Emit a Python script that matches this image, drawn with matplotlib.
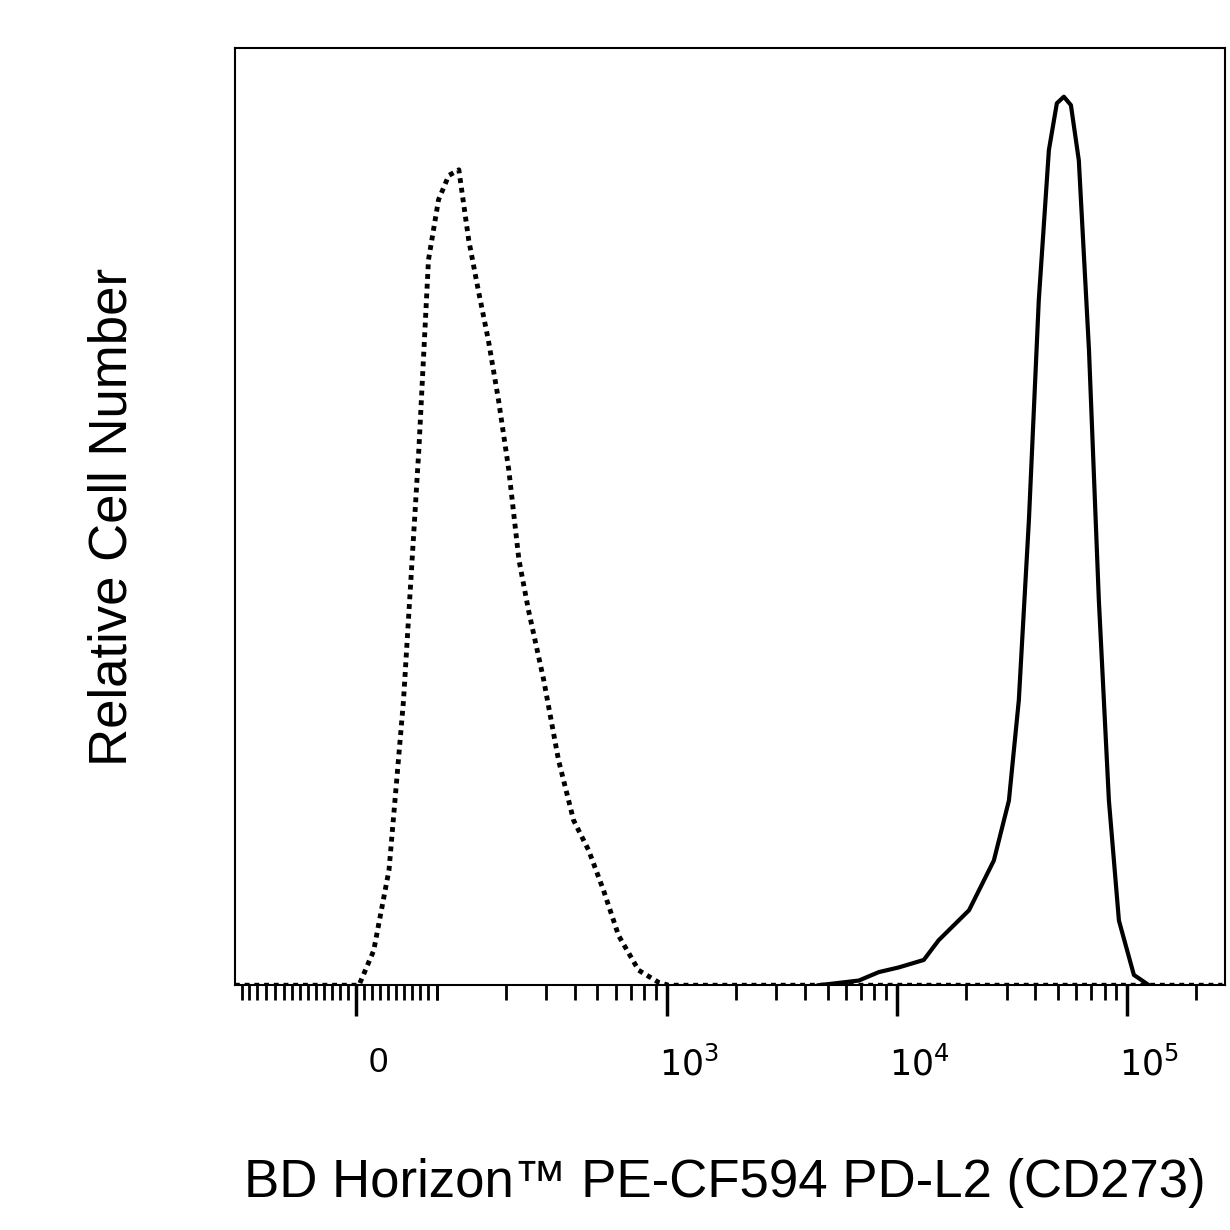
import numpy as np
import matplotlib.pyplot as plt
import matplotlib.transforms as mtransforms

plt.rcParams['font.family'] = ['Liberation Sans', 'DejaVu Sans']

# isotype control (dotted)
ctrl_x = [-150, 0, 3.7, 22, 41, 59, 78, 90, 102, 113, 125, 138, 152, 168, 186, 206, 228,
          251, 292, 339, 394, 458, 532, 618, 755, 923, 1020, 260000]
ctrl_y = [0, 0, 0, 3.7, 12.3, 30.4, 57.1, 77.4, 83.8, 86.4, 87.0, 79.5, 74.1, 68.8, 62.4,
          55.0, 45.4, 40.0, 32.6, 24.0, 17.6, 14.4, 10.1, 5.3, 1.6, 0.3, 0, 0]
# PD-L2 stained (solid)
stain_x = [4581, 6840, 8350, 10200, 13100, 15200, 20600, 26400, 30700, 33900, 37500,
           41400, 45800, 49600, 53200, 57100, 61800, 68400, 75500, 83500, 92300, 107200,
           124700]
stain_y = [0, 0.5, 1.4, 1.9, 2.7, 4.8, 8.0, 13.3, 19.7, 30.4, 49.6, 73.1, 89.1, 94.1,
           94.8, 93.9, 88.0, 67.8, 41.1, 19.7, 6.9, 1.1, 0]

major_ticks = [0, 1e3, 1e4, 1e5]
major_labels = ['0', r'$10^3$', r'$10^4$', r'$10^5$']

fig = plt.figure(figsize=(12.3, 12.3), dpi=100)
ax = fig.add_axes([0.191, 0.199, 0.805, 0.762])
ax.set_xscale('symlog', linthresh=100, linscale=0.315)
ax.plot(ctrl_x, ctrl_y, color='black', lw=3.5, ls=(0, (1, 1)))
ax.plot(stain_x, stain_y, color='black', lw=3)
ax.set_xlim(-150, 2.67e5)
ax.set_ylim(0, 100)
ax.set_yticks([])

minor = list(np.arange(-100, 101, 10)) + [-140, -130, -120, -110]
for d in [100, 1000, 10000, 100000]:
    minor += [d * k for k in range(1, 10) if d * k < 2.6e5]
ax.set_xticks(major_ticks)
ax.set_xticklabels(major_labels, fontsize=25)
ax.set_xticks(minor, minor=True)
ax.tick_params(axis='x', which='major', length=22, width=2.5, direction='out', pad=22)
ax.tick_params(axis='x', which='minor', length=11, width=2, direction='out')
off = mtransforms.ScaledTranslation(0.22, 0, fig.dpi_scale_trans)
for lab in ax.get_xticklabels():
    lab.set_transform(lab.get_transform() + off)
for s in ax.spines.values():
    s.set_linewidth(1.5)

ax.set_xlabel('BD Horizon™ PE-CF594 PD-L2 (CD273)', fontsize=38)
ax.set_ylabel('Relative Cell Number', fontsize=38, labelpad=70)
ax.xaxis.set_label_coords(0.495, -0.184)
fig.savefig('out.png', dpi=100)
